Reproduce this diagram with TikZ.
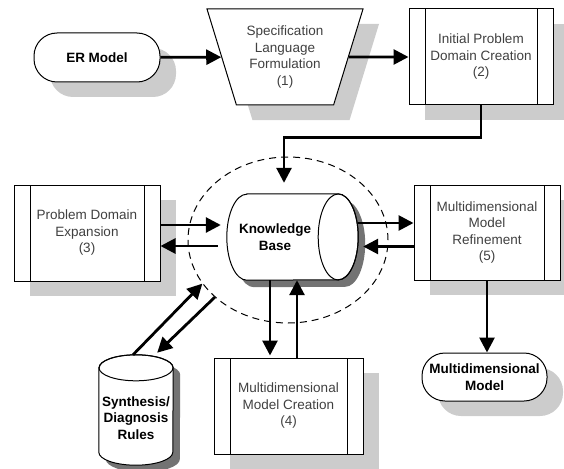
\documentclass[tikz,border=0pt]{standalone}
\usepackage{fontspec}
\setmainfont{Liberation Sans}
\usetikzlibrary{shapes.geometric,shadows,arrows.meta}

\begin{document}
\begin{tikzpicture}[x=1pt,y=-1pt,
        >={Triangle[length=15pt,width=15pt]},
        main/.style = {draw, fill=white, line width=1pt, align=center, inner sep=2pt, text=black!75, font=\fontsize{13.5pt}{16.5pt}\selectfont},
        boxshadow/.style = {general shadow={fill=black!20, shadow xshift=16pt, shadow yshift=-15pt}},
        dbshadow/.style = {general shadow={fill=black!55, shadow xshift=7pt, shadow yshift=-7pt}},
        proc/.style = {main, boxshadow, minimum width=146pt, minimum height=96pt,
                path picture={\draw ([xshift=16pt]path picture bounding box.north west) -- ([xshift=16pt]path picture bounding box.south west)
                        ([xshift=-16pt]path picture bounding box.north east) -- ([xshift=-16pt]path picture bounding box.south east);}},
        term/.style = {main, boxshadow, rounded corners=23pt, text=black, font=\fontsize{13.5pt}{16.5pt}\selectfont\bfseries},
        dbbox/.style = {inner sep=0pt},
        dbline/.style = {draw, fill=white, line width=1pt},
        dbtext/.style = {align=center, text=black, font=\fontsize{13.5pt}{16.5pt}\selectfont\bfseries},
        dashring/.style = {draw, ellipse, dashed, dash pattern=on 7pt off 5pt, line width=1pt, inner sep=0pt},
        link/.style = {->, line width=2.8pt}]
        \useasboundingbox (0,0) rectangle (564,468);
        \node[term, minimum width=126pt, minimum height=49pt] (er) at (97,57.5) {ER Model};
        \node[main, boxshadow, trapezium, shape border rotate=180, trapezium angle=66, trapezium stretches body,
                minimum width=156pt, minimum height=96pt] (spec) at (285,57) {Specification\\Language\\Formulation\\(1)};
        \node[proc, minimum width=144pt] (init) at (481,57) {Initial Problem\\Domain Creation\\(2)};
        \node[dashring, minimum width=200pt, minimum height=166pt] (kbring) at (288,240) {};
        \node[proc] (expand) at (87,233) {Problem Domain\\Expansion\\(3)};
        \node[proc, minimum height=95pt] (refine) at (487,232.5) {Multidimensional\\Model\\Refinement\\(5)};
        \node[proc, minimum width=149pt] (create) at (288.5,406) {Multidimensional\\Model Creation\\(4)};
        \node[term, minimum width=125pt, minimum height=48pt, inner sep=1pt] (mdm) at (484.5,377) {Multidimensional\\Model};
        % knowledge base, lying cylinder
        \node[dbbox, minimum width=131pt, minimum height=86pt] (kb) at (292.5,237) {};
        \draw[dbline, dbshadow] ([xshift=20pt]kb.north west) -- ([xshift=-20pt]kb.north east)
                arc[start angle=90, end angle=-90, x radius=20pt, y radius=43pt] -- ([xshift=20pt]kb.south west)
                arc[start angle=270, end angle=90, x radius=20pt, y radius=43pt] -- cycle;
        \draw[line width=1pt] ([xshift=-20pt]kb.east) ellipse [x radius=20pt, y radius=43pt];
        \node[dbtext] (kbtext) at ([xshift=-17.5pt]kb.center) {Knowledge\\Base};
        % rule base, standing cylinder
        \node[dbbox, minimum width=74pt, minimum height=110pt] (rules) at (136,410) {};
        \draw[dbline, dbshadow] ([yshift=-13pt]rules.north west) -- ([yshift=13pt]rules.south west)
                arc[start angle=180, end angle=360, x radius=37pt, y radius=13pt] -- ([yshift=-13pt]rules.north east)
                arc[start angle=0, end angle=180, x radius=37pt, y radius=13pt] -- cycle;
        \draw[line width=1pt] ([yshift=-13pt]rules.north) ellipse [x radius=37pt, y radius=13pt];
        \node[dbtext] (rulestext) at ([yshift=-8pt]rules.center) {Synthesis/\\Diagnosis\\Rules};
        % flow between the steps
        \draw[link] (er) -- (spec);
        \draw[link] (spec) -- (init);
        \draw[link, shorten >=11pt] (init.south) -- ++(0,32) -| ([xshift=-8.5pt]kb.north);
        \draw[link, shorten >=6pt] ([yshift=8pt]expand.east) -- ([yshift=8pt]expand.east -| kb.west);
        \draw[link, shorten <=9pt] ([yshift=-9pt]kb.west) -- ([yshift=-9pt]kb.west -| expand.east);
        \draw[link] ([yshift=9.5pt]refine.west -| kb.east) -- ([yshift=9.5pt]refine.west);
        \draw[link, shorten >=5pt] ([yshift=-14pt]refine.west) -- ([yshift=-14pt]refine.west -| kb.east);
        \draw[link, shorten >=2pt] ([xshift=-22.5pt]kb.south) -- ([xshift=-22.5pt]kb.south |- create.north);
        \draw[link] ([xshift=4.5pt]kb.south |- create.north) -- ([xshift=4.5pt]kb.south);
        \draw[link] ([xshift=-3pt]rules.north) -- (kbring.207);
        \draw[link, shorten >=3pt] (kbring.218) -- ([xshift=19pt]rules.north);
        \draw[link] (refine.south) -- (refine.south |- mdm.north);
\end{tikzpicture}
\end{document}
